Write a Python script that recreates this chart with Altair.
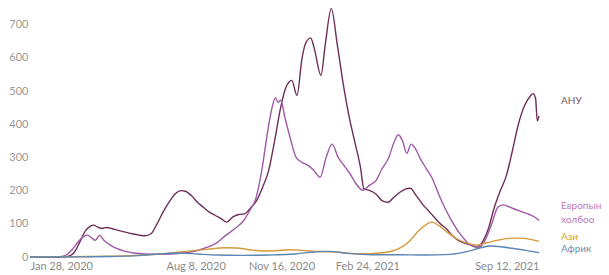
import altair as alt
import pandas as pd

usa_dates = ["2020-01-28","2020-02-20","2020-03-05","2020-03-12","2020-03-19","2020-03-26","2020-04-02","2020-04-07","2020-04-11","2020-04-16","2020-04-21","2020-04-26","2020-05-02","2020-05-10","2020-05-18","2020-05-26","2020-06-03","2020-06-10","2020-06-17","2020-06-24","2020-07-01","2020-07-08","2020-07-15","2020-07-22","2020-07-27","2020-08-03","2020-08-10","2020-08-17","2020-08-24","2020-08-31","2020-09-07","2020-09-13","2020-09-20","2020-09-27","2020-10-04","2020-10-11","2020-10-18","2020-10-25","2020-11-01","2020-11-08","2020-11-15","2020-11-21","2020-11-28","2020-12-04","2020-12-10","2020-12-14","2020-12-20","2020-12-24","2021-01-01","2021-01-06","2021-01-13","2021-01-20","2021-01-27","2021-02-03","2021-02-09","2021-02-16","2021-02-20","2021-02-27","2021-03-06","2021-03-13","2021-03-20","2021-03-27","2021-04-03","2021-04-10","2021-04-15","2021-04-22","2021-04-29","2021-05-06","2021-05-13","2021-05-20","2021-05-27","2021-06-03","2021-06-10","2021-06-17","2021-06-24","2021-07-01","2021-07-08","2021-07-15","2021-07-22","2021-07-29","2021-08-05","2021-08-12","2021-08-19","2021-08-26","2021-09-02","2021-09-05","2021-09-08","2021-09-10","2021-09-12"]
usa_vals = [0,0,0.5,2,12,45,80,92,96,90,86,89,86,80,75,70,66,64,70,100,135,165,190,200,198,185,165,150,135,125,115,105,120,128,130,148,170,210,260,350,450,510,532,487,600,643,660,630,547,640,748,640,520,420,351,270,205,200,190,170,165,180,195,205,207,185,160,140,120,100,85,65,50,42,36,30,45,85,150,200,245,320,400,455,485,492,478,410,425]

eu_dates = ["2020-01-28","2020-02-24","2020-03-03","2020-03-10","2020-03-17","2020-03-24","2020-03-31","2020-04-04","2020-04-10","2020-04-13","2020-04-18","2020-04-24","2020-05-01","2020-05-08","2020-05-18","2020-05-28","2020-06-10","2020-06-25","2020-07-10","2020-07-25","2020-08-08","2020-08-20","2020-09-01","2020-09-12","2020-09-24","2020-10-03","2020-10-10","2020-10-17","2020-10-24","2020-10-31","2020-11-05","2020-11-09","2020-11-12","2020-11-15","2020-11-20","2020-11-26","2020-12-03","2020-12-10","2020-12-17","2020-12-24","2020-12-31","2021-01-07","2021-01-14","2021-01-21","2021-01-28","2021-02-04","2021-02-11","2021-02-19","2021-02-26","2021-03-06","2021-03-13","2021-03-21","2021-03-27","2021-04-01","2021-04-06","2021-04-11","2021-04-16","2021-04-20","2021-04-27","2021-05-04","2021-05-11","2021-05-18","2021-05-25","2021-06-01","2021-06-08","2021-06-15","2021-06-22","2021-06-29","2021-07-05","2021-07-12","2021-07-19","2021-07-26","2021-08-01","2021-08-09","2021-08-16","2021-08-24","2021-09-01","2021-09-06","2021-09-12"]
eu_vals = [0,0,1,6,22,45,63,66,55,50,65,48,35,26,17,12,9,8,9,12,18,28,42,65,88,110,140,175,260,380,450,480,465,472,420,360,300,285,276,260,240,300,340,300,275,250,220,201,215,230,265,300,345,368,350,312,340,330,295,265,235,190,150,115,85,60,40,32,30,55,100,150,157,150,143,135,128,122,110]

asia_dates = ["2020-01-28","2020-02-10","2020-03-01","2020-03-20","2020-04-15","2020-05-15","2020-06-10","2020-07-01","2020-07-20","2020-08-08","2020-08-25","2020-09-10","2020-09-25","2020-10-10","2020-10-25","2020-11-10","2020-11-25","2020-12-10","2020-12-25","2021-01-10","2021-01-25","2021-02-10","2021-02-25","2021-03-10","2021-03-25","2021-04-05","2021-04-15","2021-04-25","2021-05-05","2021-05-10","2021-05-18","2021-05-28","2021-06-08","2021-06-20","2021-07-01","2021-07-12","2021-07-25","2021-08-08","2021-08-22","2021-09-02","2021-09-12"]
asia_vals = [0.3,0.6,0.5,1,2,3,6,10,15,20,24,28,27,22,18,19,22,20,17,16,14,10,10,12,18,30,50,80,100,105,95,75,55,42,36,42,50,56,57,53,47]

africa_dates = ["2020-01-28","2020-04-01","2020-05-01","2020-06-01","2020-06-25","2020-07-20","2020-08-10","2020-09-01","2020-10-01","2020-11-01","2020-12-01","2020-12-20","2021-01-10","2021-02-01","2021-03-01","2021-04-01","2021-05-01","2021-06-01","2021-06-20","2021-07-05","2021-07-18","2021-08-01","2021-08-15","2021-08-28","2021-09-12"]
africa_vals = [0,0.5,1.5,4,9,12,9,6,5,6,9,14,17,11,7,7,6,8,16,27,33,30,25,20,13]

series_names = ["АНУ", "Европын холбоо", "Ази", "Африк"]
line_colors = ["#6d2f57", "#a058a8", "#d49a3a", "#5b86b6"]
label_colors = ["#7a5a66", "#c07ab8", "#d4a030", "#6d8db5"]
label_texts = ["АНУ", "Европын\nхолбоо", "Ази", "Африк"]
label_y = [470, 153, 60, 24]

tick_dates = ["2020-01-28", "2020-08-08", "2020-11-16", "2021-02-24", "2021-09-12"]
y_ticks = [0, 100, 200, 300, 400, 500, 600, 700]

frames = []
for name, d, v in [(series_names[0], usa_dates, usa_vals), (series_names[1], eu_dates, eu_vals),
                   (series_names[2], asia_dates, asia_vals), (series_names[3], africa_dates, africa_vals)]:
    frames.append(pd.DataFrame({"date": d, "value": v, "series": name}))
df = pd.concat(frames, ignore_index=True)

labels = pd.DataFrame({"series": series_names, "text": label_texts, "y": label_y,
                       "date": ["2021-09-12"] * 4})

x_scale = alt.Scale(domain=[{"year": 2020, "month": 1, "date": 28}, {"year": 2021, "month": 9, "date": 12}])
y_scale = alt.Scale(domain=[0, 750], nice=False)
color_scale = alt.Scale(domain=series_names, range=line_colors)
label_color_scale = alt.Scale(domain=series_names, range=label_colors)

tick_objs = []
for t in tick_dates:
    yy, mm, dd = t.split("-")
    tick_objs.append(alt.DateTime(year=int(yy), month=int(mm), date=int(dd)))

x_axis = alt.Axis(values=tick_objs, format="%b %-d, %Y", labelFlush=True,
                  grid=False, ticks=False, domain=False, labelColor="#8a8a8a",
                  labelFont="Lato", labelFontSize=11, labelPadding=3, labelOverlap=False)
y_axis = alt.Axis(values=y_ticks, grid=False, ticks=False, domain=False, labelOverlap=False,
                  labelColor="#9a9a9a", labelFont="Lato", labelFontSize=11, labelPadding=2)

lines = alt.Chart(df).mark_line(strokeWidth=1.4, interpolate="monotone").encode(
    x=alt.X("date:T", scale=x_scale, title=None, axis=x_axis),
    y=alt.Y("value:Q", scale=y_scale, title=None, axis=y_axis),
    color=alt.Color("series:N", scale=color_scale, legend=None),
    order=alt.Order("series:N"),
)

text = alt.Chart(labels).mark_text(align="left", baseline="middle", dx=22, font="Lato",
                                   fontSize=10, lineBreak="\n", lineHeight=14).encode(
    x=alt.X("date:T", scale=x_scale, title=None, axis=x_axis),
    y=alt.Y("y:Q", scale=y_scale, title=None, axis=y_axis),
    text="text:N",
    color=alt.Color("series:N", scale=label_color_scale, legend=None),
)

chart = alt.layer(lines, text).resolve_scale(color="independent").properties(
    width=509, height=249,
    autosize=alt.AutoSizeParams(type="none"),
    padding={"left": 22, "top": 0, "right": 62, "bottom": 16},
).configure_view(stroke=None)

chart.save("out.html", embed_options={"renderer": "svg", "actions": False})
